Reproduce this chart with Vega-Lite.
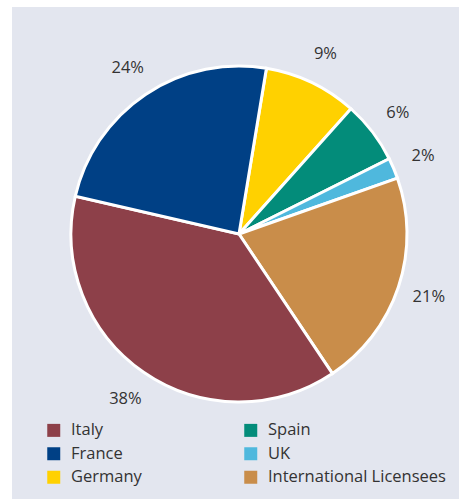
{
  "$schema": "https://vega.github.io/schema/vega-lite/v6.json",
  "width": 447,
  "height": 492,
  "autosize": {"type": "none"},
  "padding": {"left": 12, "top": 7, "right": 0, "bottom": 2},
  "background": "#ffffff",
  "view": {"fill": "#e3e6ef", "stroke": null},
  "config": {
    "font": "Open Sans"
  },
  "data": {
    "values": [
      {"country": "Germany", "share": 0.09, "seq": 1},
      {"country": "Spain", "share": 0.06, "seq": 2},
      {"country": "UK", "share": 0.02, "seq": 3},
      {"country": "International Licensees", "share": 0.21, "seq": 4},
      {"country": "Italy", "share": 0.38, "seq": 5},
      {"country": "France", "share": 0.24, "seq": 6}
    ]
  },
  "encoding": {
    "theta": {"field": "share", "type": "quantitative", "stack": true, "scale": {"range": [0.164, 6.4472]}},
    "order": {"field": "seq", "type": "quantitative"}
  },
  "layer": [
    {
      "mark": {"type": "arc", "outerRadius": 168, "stroke": "#ffffff", "strokeWidth": 3, "xOffset": 3.5, "yOffset": -19},
      "encoding": {
        "color": {
          "field": "country",
          "type": "nominal",
          "scale": {
            "domain": ["Italy", "Spain", "France", "UK", "Germany", "International Licensees"],
            "range": ["#8d4049", "#038c7a", "#004085", "#4fb8dd", "#ffd100", "#c98d4a"]
          },
          "legend": {
            "title": null,
            "orient": "none",
            "legendX": 33.5,
            "legendY": 415,
            "columns": 2,
            "direction": "horizontal",
            "symbolType": "square",
            "symbolSize": 169,
            "symbolStrokeWidth": 0,
            "labelFont": "Open Sans",
            "labelFontSize": 16.5,
            "labelColor": "#333333",
            "labelOffset": 9,
            "labelLimit": 300,
            "rowPadding": 6.5,
            "columnPadding": 100
          }
        }
      }
    },
    {
      "mark": {"type": "text", "radius": 200, "fontSize": 16.5, "color": "#333333", "font": "Open Sans", "xOffset": 3.5, "yOffset": -19},
      "encoding": {
        "text": {"field": "share", "type": "quantitative", "format": ".0%"}
      }
    }
  ]
}
